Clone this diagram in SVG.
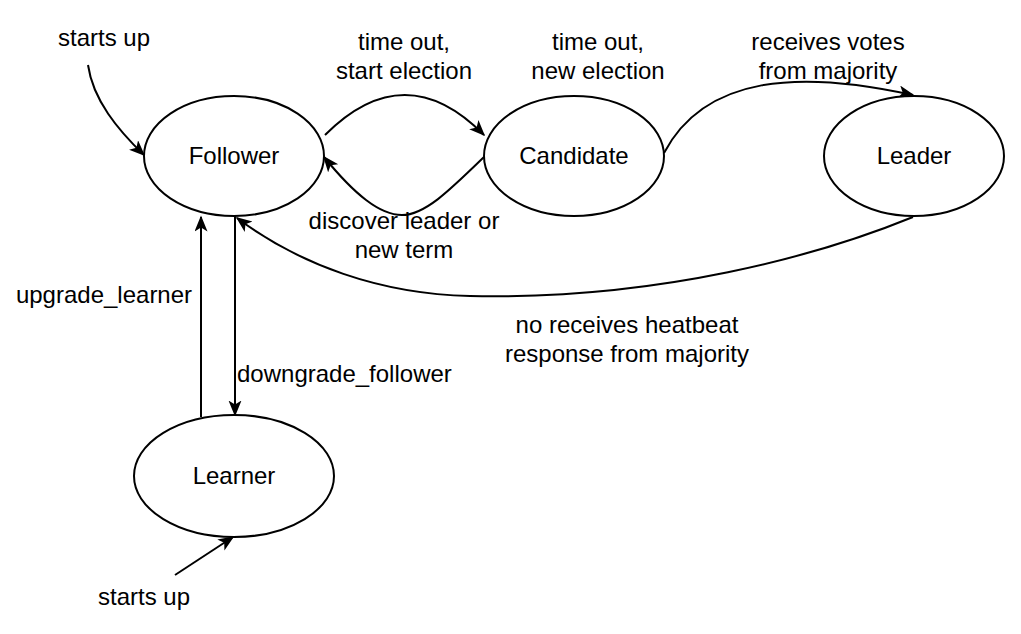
<svg xmlns="http://www.w3.org/2000/svg" width="1021" height="634" viewBox="0 0 1021 634">
  <style>
    .node ellipse { fill: #ffffff; stroke: #000000; stroke-width: 2; }
    .lbl { font-family: "Liberation Sans", Arial, Helvetica, sans-serif; font-size: 24px; fill: #000000; }
    .mid { text-anchor: middle; }
    .edge { fill: none; stroke: #000000; stroke-width: 2; marker-end: url(#arrow); }
  </style>
  <defs>
    <marker id="arrow" markerUnits="userSpaceOnUse" markerWidth="18" markerHeight="14" refX="14.5" refY="6.5" orient="auto">
      <path d="M0,0 L16,6.5 L0,13 L4,6.5 Z" fill="#000000"/>
    </marker>
  </defs>
  <rect width="1021" height="634" fill="#ffffff"/>

  <g id="connectors">
    <path class="edge" d="M88,65 C93,100 118,130 144,155"/>
    <path class="edge" d="M325,135 Q405,55 484,135"/>
    <path class="edge" d="M484,157 C450,190 425,215 402,215 C380,215 355,195 324,157"/>
    <path class="edge" d="M664,153 C705,75 800,70 913,95"/>
    <path class="edge" d="M913,217 C820,255 660,300 470,296 C380,294 300,265 237,218"/>
    <path class="edge" d="M201,417 L201,217"/>
    <path class="edge" d="M235,216 L235,415"/>
    <path class="edge" d="M175,575 L233,537"/>
  </g>

  <g id="node-follower" class="node">
    <ellipse cx="234" cy="156" rx="90" ry="60"/>
    <text class="lbl mid" x="234" y="164">Follower</text>
  </g>
  <g id="node-candidate" class="node">
    <ellipse cx="574" cy="156" rx="90" ry="60"/>
    <text class="lbl mid" x="574" y="164">Candidate</text>
  </g>
  <g id="node-leader" class="node">
    <ellipse cx="914" cy="156" rx="90" ry="60"/>
    <text class="lbl mid" x="914" y="164">Leader</text>
  </g>
  <g id="node-learner" class="node">
    <ellipse cx="234" cy="476" rx="100" ry="61"/>
    <text class="lbl mid" x="234" y="484">Learner</text>
  </g>

  <g id="labels">
    <text class="lbl mid" x="104" y="46">starts up</text>
    <text class="lbl mid" x="404" y="50">time out,</text>
    <text class="lbl mid" x="404" y="79">start election</text>
    <text class="lbl mid" x="598" y="50">time out,</text>
    <text class="lbl mid" x="598" y="79">new election</text>
    <text class="lbl mid" x="828" y="50">receives votes</text>
    <text class="lbl mid" x="828" y="79">from majority</text>
    <text class="lbl mid" x="404" y="229">discover leader or</text>
    <text class="lbl mid" x="404" y="258">new term</text>
    <text class="lbl mid" x="627" y="333">no receives heatbeat</text>
    <text class="lbl mid" x="627" y="362">response from majority</text>
    <text class="lbl mid" x="104" y="303">upgrade_learner</text>
    <text class="lbl" x="237" y="382">downgrade_follower</text>
    <text class="lbl mid" x="144" y="605">starts up</text>
  </g>
</svg>
